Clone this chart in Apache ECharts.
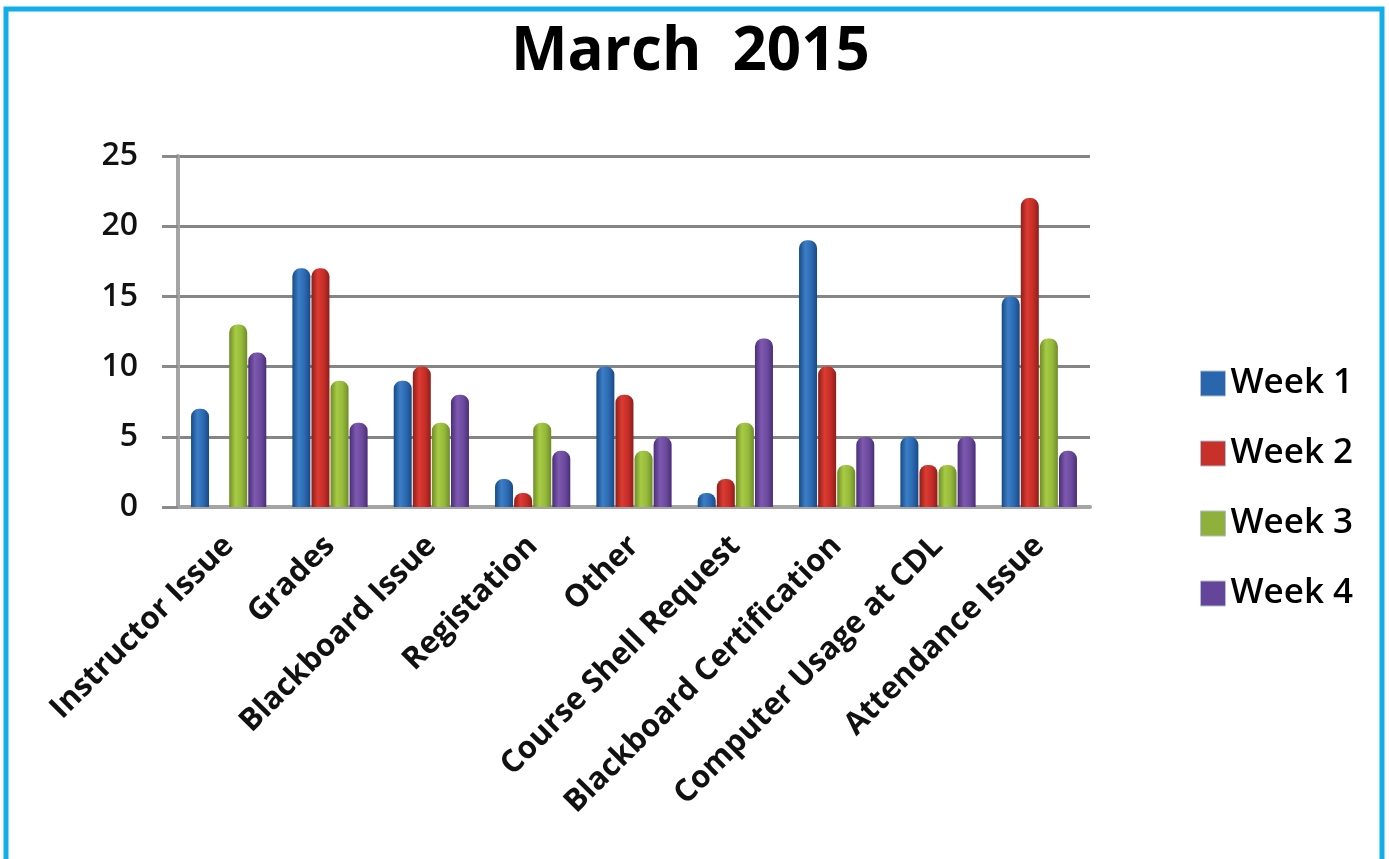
<!DOCTYPE html>
<html>
<head>
<meta charset="utf-8">
<script src="https://cdn.jsdelivr.net/npm/echarts@6/dist/echarts.min.js"></script>
<style>
html,body{margin:0;padding:0;background:#fff;}
#chart{width:1389px;height:859px;}
</style>
</head>
<body>
<div id="chart"></div>
<script>
const categories = ['Instructor Issue','Grades','Blackboard Issue','Registation','Other','Course Shell Request','Blackboard Certification','Computer Usage at CDL','Attendance Issue'];
const week1 = [7, 17, 9, 2, 10, 1, 19, 5, 15];
const week2 = [0, 17, 10, 1, 8, 2, 10, 3, 22];
const week3 = [13, 9, 6, 6, 4, 6, 3, 3, 12];
const week4 = [11, 6, 8, 4, 5, 12, 5, 5, 4];
const seriesNames = ['Week 1','Week 2','Week 3','Week 4'];
const yTicks = [0, 5, 10, 15, 20, 25];

function grad(dark, mid, light) {
  return new echarts.graphic.LinearGradient(0, 0, 1, 0, [
    {offset: 0, color: dark},
    {offset: 0.35, color: light},
    {offset: 0.7, color: mid},
    {offset: 1, color: dark}
  ]);
}
const colors = [
  grad('#174a86', '#2b68b0', '#3c7ec6'),
  grad('#8e1e1a', '#c42d27', '#dc3b32'),
  grad('#6f8c28', '#94b83a', '#a8cb45'),
  grad('#4a2e75', '#6b4a9e', '#7d59b0')
];
const legendColors = ['#2a66ad', '#c8302a', '#8fb03a', '#65459a'];

const chart = echarts.init(document.getElementById('chart'));
const data = [week1, week2, week3, week4];
chart.setOption({
  backgroundColor: '#fff',
  animation: false,
  title: {
    text: 'March  2015',
    left: 506,
    top: 18,
    textStyle: {fontFamily: 'Open Sans', fontWeight: 'bold', fontSize: 60, color: '#000'}
  },
  legend: {
    orient: 'vertical',
    left: 1195,
    top: 361,
    itemWidth: 25,
    itemHeight: 25,
    itemGap: 35,
    icon: 'rect',
    textStyle: {fontFamily: 'Open Sans', fontWeight: 600, fontSize: 35, lineHeight: 35, color: '#000', padding: [0,0,0,0]},
    data: seriesNames.map((n, i) => ({name: n, itemStyle: {color: legendColors[i], borderColor: '#b0bfd3', borderWidth: 1}}))
  },
  grid: {left: 178, right: 299, top: 156, bottom: 352, containLabel: false},
  xAxis: {
    type: 'category',
    data: categories,
    axisLine: {show: true, lineStyle: {color: '#a5a5a5', width: 4}},
    axisTick: {show: false},
    axisLabel: {
      rotate: 45,
      interval: 0,
      margin: 34,
      fontFamily: 'Open Sans',
      fontWeight: 'bold',
      fontSize: 31,
      color: '#111'
    }
  },
  yAxis: {
    type: 'value',
    min: 0,
    max: 25,
    interval: 5,
    axisLine: {show: true, lineStyle: {color: '#a5a5a5', width: 4}},
    axisTick: {show: true, length: 16, lineStyle: {color: '#8a8a8a', width: 3}},
    axisLabel: {
      margin: 40,
      fontFamily: 'Open Sans',
      fontWeight: 600,
      fontSize: 32,
      color: '#111',
      formatter: v => yTicks.indexOf(v) >= 0 ? String(v) : ''
    },
    splitLine: {show: true, lineStyle: {color: '#858585', width: 3}}
  },
  series: data.map((d, i) => ({
    name: seriesNames[i],
    type: 'bar',
    data: d,
    barWidth: 18,
    barGap: '6%',
    itemStyle: {color: colors[i], borderRadius: [8, 8, 0, 0]}
  })),
  graphic: [{
    type: 'rect',
    shape: {x: 6, y: 9, width: 1376, height: 870},
    style: {fill: 'none', stroke: '#12aeea', lineWidth: 5},
    z: 100
  }]
});
</script>
</body>
</html>
